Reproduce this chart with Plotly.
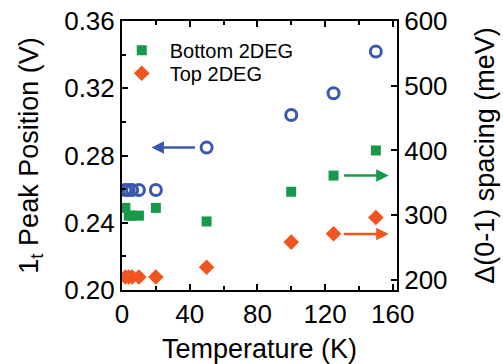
import plotly.graph_objects as go

# Data
temperature = [2, 4, 6, 10, 20, 50, 100, 125, 150]
peak_position = [0.2595, 0.2595, 0.2595, 0.2595, 0.2595, 0.2847, 0.3041, 0.3170, 0.3418]
bottom_2deg = [311, 299, 299, 299, 311, 290, 336, 361, 400]
top_2deg = [204, 204, 204, 204, 204, 219, 258, 271, 296]

x_ticks = [0, 40, 80, 120, 160]
y_left_ticks = [0.20, 0.24, 0.28, 0.32, 0.36]
y_right_ticks = [200, 300, 400, 500, 600]

BLUE = "#3a58ad"
GREEN = "#17984a"
ORANGE = "#f0551f"
FONT = "Liberation Sans, Arial, sans-serif"

fig = go.Figure()
fig.add_trace(go.Scatter(
    x=temperature, y=peak_position, mode="markers", showlegend=False,
    marker=dict(symbol="circle-open", size=11, color=BLUE, line=dict(width=3, color=BLUE)),
    yaxis="y"))
fig.add_trace(go.Scatter(
    x=temperature, y=bottom_2deg, mode="markers", name="Bottom 2DEG", legend="legend",
    marker=dict(symbol="square", size=10, color=GREEN), yaxis="y2"))
fig.add_trace(go.Scatter(
    x=temperature, y=top_2deg, mode="markers", name="Top 2DEG", legend="legend2",
    marker=dict(symbol="diamond", size=12, color=ORANGE), yaxis="y2"))

# arrows indicating which axis each series belongs to
arrows = [
    dict(x=17.4, y=0.2847, ax=44, ay=0.2847, xref="x", yref="y", axref="x", ayref="y", color=BLUE),
    dict(x=157.6, y=361, ax=130.2, ay=361, xref="x", yref="y2", axref="x", ayref="y2", color=GREEN),
    dict(x=157.6, y=270.7, ax=130.2, ay=270.7, xref="x", yref="y2", axref="x", ayref="y2", color=ORANGE),
]
for a in arrows:
    fig.add_annotation(x=a["x"], y=a["y"], ax=a["ax"], ay=a["ay"], xref=a["xref"], yref=a["yref"],
                       axref=a["axref"], ayref=a["ayref"], showarrow=True, arrowhead=2,
                       arrowsize=1, arrowwidth=2.5, arrowcolor=a["color"], text="")

axis_common = dict(showline=True, linecolor="black", linewidth=2, ticks="inside",
                   tickcolor="black", tickwidth=2, ticklen=6, showgrid=False, zeroline=False,
                   automargin=False,
                   tickfont=dict(family=FONT, size=26, color="black"))

legend_common = dict(xanchor="left", yanchor="middle", bgcolor="rgba(0,0,0,0)",
                     font=dict(family=FONT, size=20), itemwidth=46)

fig.update_layout(
    width=503, height=364,
    margin=dict(l=122, r=106, t=21, b=74),
    paper_bgcolor="white", plot_bgcolor="white",
    font=dict(family=FONT, color="black"),
    xaxis=dict(range=[0, 162.5], tickvals=x_ticks, mirror="ticks",
               minor=dict(dtick=20, ticks="inside", ticklen=4, tickcolor="black", tickwidth=2),
               title=dict(text="Temperature (K)", font=dict(family=FONT, size=27), standoff=12),
               **axis_common),
    yaxis=dict(range=[0.20, 0.36], tickvals=y_left_ticks, tickformat=".2f",
               minor=dict(dtick=0.02, ticks="inside", ticklen=4, tickcolor="black", tickwidth=2),
               title=dict(text="1<sub>t</sub> Peak Position (V)", font=dict(family=FONT, size=27), standoff=18),
               **axis_common),
    yaxis2=dict(range=[183.8, 600.5], tickvals=y_right_ticks, overlaying="y", side="right",
                title=dict(text="Δ(0-1) spacing (meV)", font=dict(family=FONT, size=27), standoff=29),
                **axis_common),
    legend=dict(x=-0.03, y=0.891, **legend_common),
    legend2=dict(x=-0.03, y=0.806, **legend_common),
)

fig.write_html("out.html")
